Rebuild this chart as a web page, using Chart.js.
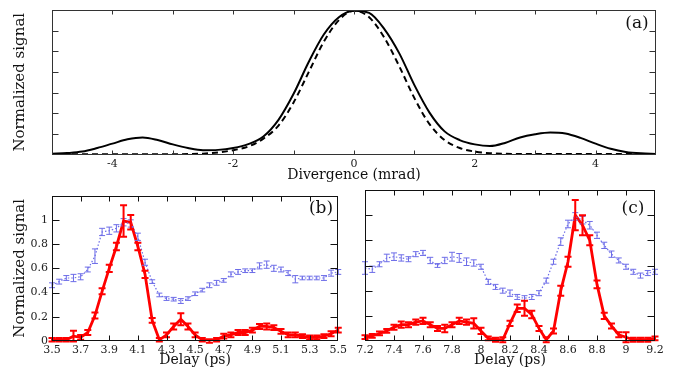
<!DOCTYPE html>
<html>
<head>
<meta charset="utf-8">
<script src="https://cdn.jsdelivr.net/npm/chart.js@4.4.1/dist/chart.umd.min.js"></script>
<style>
  html, body { margin: 0; padding: 0; background: #fff; }
  #wrap { position: relative; width: 673px; height: 369px; }
  canvas { position: absolute; }
</style>
</head>
<body>
<div id="wrap">
  <canvas id="chartA" width="673" height="185" style="left:0;top:0;width:673px;height:185px"></canvas>
  <canvas id="chartB" width="350" height="184" style="left:0;top:185px;width:350px;height:184px"></canvas>
  <canvas id="chartC" width="323" height="184" style="left:350px;top:185px;width:323px;height:184px"></canvas>
</div>
<script>
// ---- panel (a): divergence profiles
const divergence = [-5, -4.75, -4.5, -4.25, -4, -3.75, -3.5, -3.25, -3, -2.75, -2.5, -2.25, -2, -1.75, -1.5, -1.25, -1, -0.75, -0.5, -0.25,
  0, 0.25, 0.5, 0.75, 1, 1.25, 1.5, 1.75, 2, 2.25, 2.5, 2.75, 3, 3.25, 3.5, 3.75, 4, 4.25, 4.5, 4.75, 5];
const solidSignal = [0.005, 0.01, 0.02, 0.045, 0.075, 0.105, 0.118, 0.1, 0.07, 0.045, 0.03, 0.032, 0.045, 0.072, 0.125, 0.24, 0.42, 0.64, 0.83, 0.95,
  0.995, 0.98, 0.87, 0.7, 0.48, 0.29, 0.16, 0.1, 0.07, 0.058, 0.08, 0.118, 0.14, 0.152, 0.145, 0.115, 0.075, 0.04, 0.018, 0.008, 0.004];
const dashedSignal = [0.002, 0.002, 0.002, 0.002, 0.002, 0.002, 0.002, 0.002, 0.002, 0.003, 0.006, 0.014, 0.03, 0.055, 0.11, 0.2, 0.36, 0.57, 0.78, 0.93,
  0.995, 0.95, 0.81, 0.61, 0.39, 0.21, 0.1, 0.045, 0.02, 0.009, 0.005, 0.003, 0.003, 0.003, 0.003, 0.003, 0.003, 0.003, 0.003, 0.003, 0.003];
const divergenceTicks = [-4, -3, -2, -1, 0, 1, 2, 3, 4];
const divergenceLabels = ["-4", "", "-2", "", "0", "", "2", "", "4"];
const signalTicksA = [0, 0.143, 0.286, 0.429, 0.571, 0.714, 0.857, 1];

// ---- panel (b): delay scan 3.5 - 5.5 ps
const delayB = [3.5, 3.55, 3.6, 3.65, 3.7, 3.75, 3.8, 3.85, 3.9, 3.95, 4, 4.05, 4.1, 4.15, 4.2, 4.25, 4.3, 4.35, 4.4, 4.45,
  4.5, 4.55, 4.6, 4.65, 4.7, 4.75, 4.8, 4.85, 4.9, 4.95, 5, 5.05, 5.1, 5.15, 5.2, 5.25, 5.3, 5.35, 5.4, 5.45, 5.5];
const redB = [0.01, 0.01, 0.01, 0.04, 0.03, 0.07, 0.21, 0.41, 0.6, 0.78, 0.99, 0.98, 0.78, 0.55,
  0.17, 0.01, 0.05, 0.12, 0.18, 0.12, 0.05, 0.01, 0, 0.01, 0.04, 0.05, 0.07, 0.07, 0.09, 0.12, 0.12, 0.11, 0.08, 0.05, 0.05, 0.04, 0.03, 0.03, 0.04, 0.06, 0.09];
const redErrB = [0.015, 0.015, 0.015, 0.045, 0.02, 0.02, 0.025, 0.025, 0.03, 0.03, 0.13, 0.06, 0.03, 0.03,
  0.02, 0.015, 0.02, 0.025, 0.05, 0.025, 0.02, 0.015, 0.015, 0.015, 0.02, 0.02, 0.02, 0.02, 0.02, 0.02, 0.025, 0.02, 0.02, 0.02, 0.02, 0.015, 0.015, 0.015, 0.015, 0.02, 0.02];
const blueB = [0.46, 0.49, 0.52, 0.52, 0.53, 0.59, 0.7, 0.9, 0.91, 0.93, 0.98, 0.97, 0.86, 0.65,
  0.49, 0.38, 0.35, 0.345, 0.33, 0.35, 0.39, 0.42, 0.46, 0.48, 0.5, 0.55, 0.57, 0.58, 0.58, 0.62, 0.63, 0.6, 0.59, 0.56, 0.51, 0.52, 0.52, 0.52, 0.52, 0.56, 0.57];
const blueErrB = [0.02, 0.02, 0.02, 0.03, 0.025, 0.02, 0.06, 0.03, 0.03, 0.03, 0.03, 0.03, 0.03, 0.025,
  0.015, 0.015, 0.015, 0.015, 0.02, 0.015, 0.015, 0.015, 0.02, 0.02, 0.015, 0.02, 0.02, 0.015, 0.015, 0.025, 0.03, 0.025, 0.02, 0.02, 0.03, 0.015, 0.015, 0.015, 0.02, 0.025, 0.02];
const delayTicksB = [3.5, 3.7, 3.9, 4.1, 4.3, 4.5, 4.7, 4.9, 5.1, 5.3, 5.5];
const delayLabelsB = ["3.5", "3.7", "3.9", "4.1", "4.3", "4.5", "4.7", "4.9", "5.1", "5.3", "5.5"];

// ---- panel (c): delay scan 7.2 - 9.2 ps
const delayC = [7.2, 7.25, 7.3, 7.35, 7.4, 7.45, 7.5, 7.55, 7.6, 7.65, 7.7, 7.75, 7.8, 7.85, 7.9, 7.95, 8, 8.05, 8.1, 8.15,
  8.2, 8.25, 8.3, 8.35, 8.4, 8.45, 8.5, 8.55, 8.6, 8.65, 8.7, 8.75, 8.8, 8.85, 8.9, 8.95, 9, 9.05, 9.1, 9.15, 9.2];
const redC = [0.03, 0.04, 0.06, 0.08, 0.11, 0.13, 0.13, 0.15, 0.16, 0.13, 0.1, 0.1, 0.13, 0.16, 0.15, 0.14,
  0.08, 0.02, 0.01, 0.01, 0.14, 0.26, 0.26, 0.21, 0.1, 0.01, 0.08, 0.4, 0.63, 1, 0.92, 0.8, 0.45, 0.2, 0.12, 0.05,
  0.03, 0.01, 0.01, 0.01, 0.02];
const redErrC = [0.015, 0.015, 0.015, 0.015, 0.02, 0.025, 0.02, 0.02, 0.025, 0.02, 0.02, 0.03, 0.02, 0.025, 0.02, 0.04,
  0.025, 0.015, 0.015, 0.02, 0.02, 0.03, 0.06, 0.03, 0.02, 0.02, 0.02, 0.04, 0.04, 0.12, 0.08, 0.04, 0.03, 0.025, 0.02, 0.02,
  0.04, 0.015, 0.015, 0.015, 0.015];
const blueC = [0.58, 0.57, 0.61, 0.66, 0.67, 0.66, 0.65, 0.69, 0.7, 0.64, 0.6, 0.64, 0.67, 0.66, 0.63, 0.62,
  0.59, 0.47, 0.43, 0.4, 0.38, 0.35, 0.34, 0.35, 0.38, 0.48, 0.63, 0.79, 0.93, 0.99, 0.96, 0.92, 0.84, 0.76, 0.69, 0.64,
  0.59, 0.55, 0.52, 0.54, 0.55];
const blueErrC = [0.05, 0.025, 0.02, 0.03, 0.03, 0.025, 0.02, 0.02, 0.02, 0.025, 0.015, 0.025, 0.035, 0.035, 0.03, 0.025,
  0.02, 0.02, 0.02, 0.02, 0.025, 0.02, 0.02, 0.02, 0.02, 0.02, 0.02, 0.03, 0.03, 0.03, 0.03, 0.03, 0.025, 0.025, 0.025, 0.02,
  0.02, 0.02, 0.02, 0.02, 0.02];
const delayTicksC = [7.2, 7.4, 7.6, 7.8, 8, 8.2, 8.4, 8.6, 8.8, 9, 9.2];
const delayLabelsC = ["7.2", "7.4", "7.6", "7.8", "8", "8.2", "8.4", "8.6", "8.8", "9", "9.2"];

const signalTicks = [0, 0.2, 0.4, 0.6, 0.8, 1, 1.2];
const signalLabels = ["0", "0.2", "0.4", "0.6", "0.8", "1", ""];

const FONT = "'DejaVu Serif', serif";
const RED = "#ff0000";
const BLUE = "#6c6ce8";

// error bars with caps, drawn through the chart scales
const errorBars = {
  id: "errorBars",
  afterDatasetsDraw(chart) {
    const { ctx, scales } = chart;
    ctx.save();
    chart.data.datasets.forEach((ds) => {
      if (!ds.errors) return;
      ctx.strokeStyle = ds.borderColor;
      ctx.lineWidth = ds.errorWidth;
      ctx.setLineDash([]);
      ctx.beginPath();
      ds.data.forEach((p, i) => {
        const px = scales.x.getPixelForValue(p.x);
        const hi = scales.y.getPixelForValue(p.y + ds.errors[i]);
        const lo = scales.y.getPixelForValue(p.y - ds.errors[i]);
        const c = ds.capSize;
        ctx.moveTo(px, hi); ctx.lineTo(px, lo);
        ctx.moveTo(px - c, hi); ctx.lineTo(px + c, hi);
        ctx.moveTo(px - c, lo); ctx.lineTo(px + c, lo);
      });
      ctx.stroke();
    });
    ctx.restore();
  },
};

// box frame, inward ticks on all four sides, panel letter
const frame = {
  id: "frame",
  afterDraw(chart, args, o) {
    const { ctx, chartArea: a, scales: { x, y } } = chart;
    const L = Math.round(a.left) + 0.5, R = Math.round(a.right) - 0.5;
    const T = Math.round(a.top) + 0.5, B = Math.round(a.bottom) - 0.5;
    ctx.save();
    ctx.strokeStyle = o.color;
    ctx.lineWidth = 1;
    ctx.strokeRect(L, T, R - L, B - T);
    ctx.beginPath();
    x.ticks.forEach((t) => {
      const px = Math.round(x.getPixelForValue(t.value)) + 0.5;
      if (px <= L + 1 || px >= R - 1) return;
      ctx.moveTo(px, B); ctx.lineTo(px, B - o.xTick);
      ctx.moveTo(px, T); ctx.lineTo(px, T + o.xTick);
    });
    y.ticks.forEach((t) => {
      const py = Math.round(y.getPixelForValue(t.value)) + 0.5;
      if (py <= T + 1 || py >= B - 1) return;
      ctx.moveTo(L, py); ctx.lineTo(L + o.yTick, py);
      ctx.moveTo(R, py); ctx.lineTo(R - o.yTick, py);
    });
    ctx.stroke();
    ctx.fillStyle = "#111";
    ctx.font = "17px " + FONT;
    ctx.textAlign = "center";
    ctx.textBaseline = "middle";
    ctx.fillText(o.label, o.labelX, o.labelY);
    ctx.restore();
  },
};

function points(xs, ys) {
  return xs.map((v, i) => ({ x: v, y: ys[i] }));
}

function xScale(min, max, ticks, labels, height, title, pad) {
  return {
    type: "linear",
    min, max,
    afterBuildTicks: (s) => { s.ticks = ticks.map((v) => ({ value: v })); },
    afterFit: (s) => { s.height = height; },
    grid: { display: false, drawTicks: false },
    border: { display: false },
    ticks: {
      autoSkip: false, maxRotation: 0, padding: 3, color: "#222",
      font: { family: FONT, size: 11 },
      callback: (v, i) => labels[i],
    },
    title: { display: true, text: title, color: "#111", font: { family: FONT, size: 14 }, padding: { top: 0, bottom: pad } },
  };
}

function yScale(min, max, ticks, labels, width, title) {
  return {
    type: "linear",
    min, max,
    afterBuildTicks: (s) => { s.ticks = ticks.map((v) => ({ value: v })); },
    afterFit: (s) => { s.width = width; },
    grid: { display: false, drawTicks: false },
    border: { display: false },
    ticks: {
      display: !!labels, padding: 4, color: "#222",
      font: { family: FONT, size: 11 },
      callback: (v, i) => (labels ? labels[i] : ""),
    },
    title: { display: !!title, text: title || "", color: "#111", font: { family: FONT, size: 15 }, padding: { top: 11, bottom: 0 } },
  };
}

function baseOptions(padding, scales, frameOpts) {
  return {
    responsive: false,
    animation: false,
    devicePixelRatio: 1,
    layout: { padding },
    elements: { point: { radius: 0, hoverRadius: 0 } },
    plugins: { legend: { display: false }, tooltip: { enabled: false }, frame: frameOpts },
    scales,
  };
}

function renderDivergence() {
  new Chart(document.getElementById("chartA"), {
    type: "line",
    data: {
      datasets: [
        { data: points(divergence, dashedSignal), borderColor: "#000", borderWidth: 2, borderDash: [6, 4], tension: 0.4, cubicInterpolationMode: "monotone" },
        { data: points(divergence, solidSignal), borderColor: "#000", borderWidth: 2, tension: 0.4, cubicInterpolationMode: "monotone" },
      ],
    },
    options: baseOptions(
      { left: 0, right: 17, top: 10, bottom: 0 },
      {
        x: xScale(-5, 5, divergenceTicks, divergenceLabels, 30.5, "Divergence (mrad)", 1),
        y: yScale(0, 1, signalTicksA, null, 52, "Normalized signal"),
      },
      { color: "#333", xTick: 4, yTick: 6, label: "(a)", labelX: 637, labelY: 24 }
    ),
    plugins: [errorBars, frame],
  });
}

function delayDatasets(xs, red, redErr, blue, blueErr) {
  return [
    { data: points(xs, blue), borderColor: BLUE, borderWidth: 1.2, borderDash: [1.5, 2], errors: blueErr, errorWidth: 1, capSize: 3 },
    { data: points(xs, red), borderColor: RED, borderWidth: 2.8, errors: redErr, errorWidth: 2, capSize: 3.5 },
  ];
}

function renderDelayB() {
  new Chart(document.getElementById("chartB"), {
    type: "line",
    data: { datasets: delayDatasets(delayB, redB, redErrB, blueB, blueErrB) },
    options: baseOptions(
      { left: 0, right: 10, top: 5, bottom: 0 },
      {
        x: xScale(3.5, 5.5, delayTicksB, delayLabelsB, 28, "Delay (ps)", 0),
        y: yScale(0, 1.2, signalTicks, signalLabels, 52, "Normalized signal"),
      },
      { color: "#111", xTick: 5, yTick: 7, label: "(b)", labelX: 321, labelY: 24 }
    ),
    plugins: [errorBars, frame],
  });
}

function renderDelayC() {
  new Chart(document.getElementById("chartC"), {
    type: "line",
    data: { datasets: delayDatasets(delayC, redC, redErrC, blueC, blueErrC) },
    options: baseOptions(
      { left: 0, right: 18, top: 5, bottom: 0 },
      {
        x: xScale(7.2, 9.2, delayTicksC, delayLabelsC, 28, "Delay (ps)", 0),
        y: yScale(0, 1.2, signalTicks, null, 15, null),
      },
      { color: "#111", xTick: 5, yTick: 7, label: "(c)", labelX: 283, labelY: 24 }
    ),
    plugins: [errorBars, frame],
  });
}

renderDivergence();
renderDelayB();
renderDelayC();
</script>
</body>
</html>
